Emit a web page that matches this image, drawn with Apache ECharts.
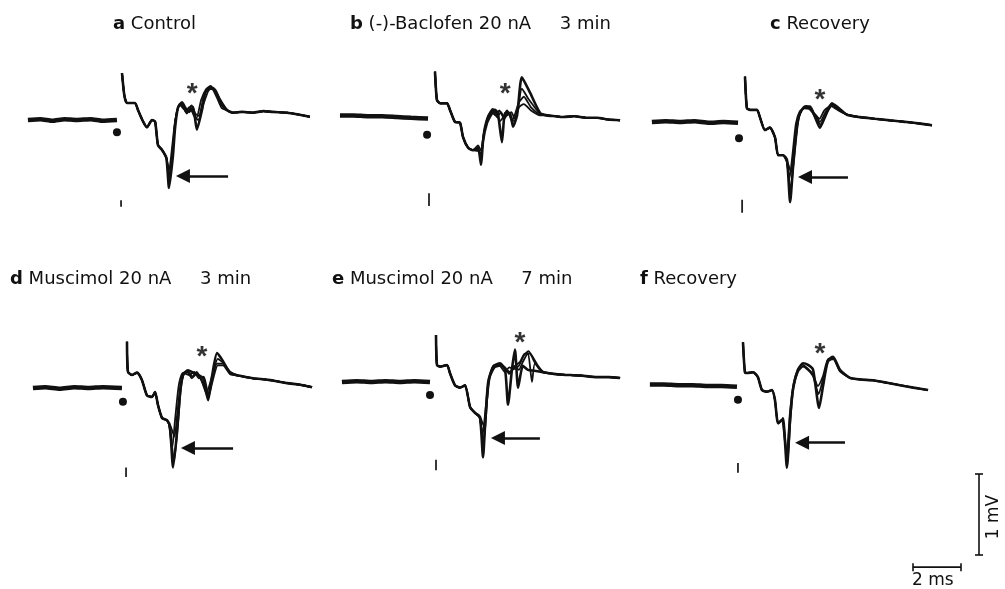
<!DOCTYPE html>
<html>
<head>
<meta charset="utf-8">
<script src="https://cdn.jsdelivr.net/npm/echarts@6/dist/echarts.min.js"></script>
<style>html,body{margin:0;padding:0;background:#fff}#c{width:1005px;height:589px}</style>
</head>
<body>
<div id="c"></div>
<script>
// Time in ms relative to stimulus, voltage in mV relative to baseline.
// ---- Panel titles ----
const panelLetters = ['a', 'b', 'c', 'd', 'e', 'f'];
const panelNames = ['Control', '(-)-Baclofen 20 nA     3 min', 'Recovery',
  'Muscimol 20 nA     3 min', 'Muscimol 20 nA     7 min', 'Recovery'];

// ---- Panel a ----
const aBase = [[-3.92,0.0],[-3.4,0.01],[-2.9,-0.01],[-2.4,0.01],[-1.9,0.0],[-1.3,0.01],[-0.8,-0.01],[-0.21,0.0]];
const aPre = [[0,0.58],[0.1,0.3],[0.21,0.21],[0.54,0.21],[0.67,0.12],[0.88,-0.02],[1.04,-0.09],[1.25,0.0],[1.38,-0.02],[1.5,-0.31],[1.67,-0.37],[1.85,-0.47]];
const aMid1 = [[1.96,-0.84],[2.12,-0.45],[2.21,-0.1],[2.33,0.15],[2.5,0.22],[2.62,0.16],[2.79,0.1],[2.96,0.16],[3.12,-0.12],[3.33,0.12],[3.46,0.33],[3.67,0.40],[3.88,0.37],[4.08,0.25]];
const aMid2 = [[1.96,-0.70],[2.1,-0.4],[2.2,-0.05],[2.35,0.16],[2.5,0.2],[2.65,0.1],[2.8,0.16],[2.96,0.1],[3.1,0.02],[3.3,0.25],[3.5,0.38],[3.7,0.42],[3.9,0.33],[4.1,0.2]];
const aMid3 = [[1.96,-0.62],[2.1,-0.3],[2.22,0.0],[2.38,0.18],[2.55,0.17],[2.7,0.08],[2.85,0.14],[3.0,0.05],[3.18,0.0],[3.4,0.2],[3.6,0.36],[3.8,0.4],[4.0,0.3],[4.2,0.18]];
const aMid4 = [[1.96,-0.76],[2.12,-0.35],[2.24,0.02],[2.4,0.2],[2.55,0.14],[2.7,0.12],[2.9,0.18],[3.05,0.08],[3.2,0.05],[3.4,0.28],[3.55,0.38],[3.75,0.38],[3.95,0.28],[4.15,0.15]];
const aPost = [[4.38,0.12],[4.62,0.09],[5.0,0.1],[5.46,0.09],[5.9,0.11],[6.29,0.1],[6.88,0.09],[7.3,0.07],[7.83,0.04]];

// ---- Panel b ----
const bBase = [[-3.96,0.02],[-3.4,0.02],[-2.8,0.01],[-2.2,0.01],[-1.6,0.0],[-1.0,-0.01],[-0.29,-0.02]];
const bPre = [[0,0.56],[0.08,0.21],[0.21,0.17],[0.5,0.17],[0.62,0.09],[0.83,-0.06],[1.04,-0.07],[1.17,-0.25],[1.38,-0.38],[1.58,-0.41]];
const bMid1 = [[1.79,-0.38],[1.92,-0.59],[2.0,-0.3],[2.17,-0.07],[2.38,0.05],[2.5,0.09],[2.62,0.05],[2.79,-0.31],[2.92,0.05],[3.12,0.05],[3.25,-0.12],[3.42,0.02],[3.62,0.49],[3.96,0.3],[4.38,0.05]];
const bMid2 = [[1.79,-0.42],[1.92,-0.45],[2.05,-0.2],[2.2,0.0],[2.4,0.1],[2.55,0.05],[2.7,-0.05],[2.85,0.0],[3.0,0.08],[3.15,0.0],[3.3,-0.05],[3.45,0.1],[3.62,0.35],[3.9,0.22],[4.38,0.04]];
const bMid3 = [[1.79,-0.35],[1.92,-0.42],[2.05,-0.15],[2.22,0.02],[2.42,0.08],[2.58,0.0],[2.75,0.06],[2.9,-0.02],[3.05,0.06],[3.2,-0.05],[3.35,0.05],[3.5,0.18],[3.7,0.25],[4.0,0.12],[4.38,0.03]];
const bMid4 = [[1.79,-0.4],[1.92,-0.5],[2.02,-0.22],[2.18,-0.04],[2.36,0.06],[2.52,0.02],[2.68,0.08],[2.85,0.0],[3.0,0.02],[3.18,0.06],[3.32,-0.02],[3.5,0.12],[3.7,0.16],[4.0,0.08],[4.38,0.02]];
const bPost = [[4.67,0.02],[5.0,0.01],[5.33,0.0],[5.8,0.01],[6.3,-0.01],[6.75,-0.01],[7.2,-0.03],[7.71,-0.04]];

// ---- Panel c ----
const cBase = [[-3.88,0.0],[-3.3,0.01],[-2.7,0.0],[-2.1,0.01],[-1.5,-0.01],[-0.9,0.0],[-0.29,-0.01]];
const cPre = [[0,0.56],[0.08,0.17],[0.21,0.15],[0.5,0.15],[0.62,0.06],[0.83,-0.1],[1.04,-0.07],[1.25,-0.19],[1.38,-0.41],[1.58,-0.41]];
const cMid1 = [[1.75,-0.47],[1.88,-0.99],[2.0,-0.56],[2.17,-0.06],[2.29,0.11],[2.5,0.19],[2.71,0.19],[2.92,0.06],[3.12,-0.07],[3.33,0.06],[3.62,0.23],[3.83,0.19]];
const cMid2 = [[1.75,-0.5],[1.9,-0.85],[2.04,-0.45],[2.2,0.0],[2.35,0.14],[2.55,0.2],[2.75,0.15],[2.95,0.08],[3.12,0.0],[3.35,0.12],[3.6,0.22],[3.85,0.17]];
const cMid3 = [[1.72,-0.45],[1.85,-0.7],[1.98,-0.4],[2.12,-0.02],[2.28,0.13],[2.48,0.17],[2.68,0.16],[2.9,0.1],[3.1,0.04],[3.3,0.14],[3.58,0.2],[3.8,0.16]];
const cMid4 = [[1.75,-0.48],[1.92,-0.62],[2.06,-0.3],[2.22,0.04],[2.4,0.16],[2.6,0.18],[2.8,0.12],[3.0,0.02],[3.15,-0.03],[3.38,0.1],[3.65,0.21],[3.9,0.15]];
const cPost = [[4.25,0.09],[4.79,0.06],[5.4,0.04],[6.04,0.02],[6.4,0.01],[6.75,0.0],[7.3,-0.02],[7.79,-0.04]];

// ---- Panel d ----
const dBase = [[-3.92,0.0],[-3.4,0.01],[-2.8,-0.01],[-2.2,0.01],[-1.6,0.0],[-1.0,0.01],[-0.21,0.0]];
const dPre = [[0,0.57],[0.04,0.2],[0.21,0.16],[0.42,0.19],[0.62,0.1],[0.83,-0.09],[1.04,-0.11],[1.17,-0.05],[1.29,-0.21],[1.46,-0.37],[1.67,-0.4]];
const dMid1 = [[1.79,-0.48],[1.92,-0.98],[2.08,-0.56],[2.21,-0.06],[2.33,0.16],[2.54,0.22],[2.75,0.19],[2.96,0.16],[3.17,0.12],[3.38,-0.15],[3.54,0.14],[3.75,0.43],[3.96,0.35],[4.29,0.19]];
const dMid2 = [[1.79,-0.5],[1.96,-0.9],[2.12,-0.45],[2.25,0.0],[2.38,0.18],[2.55,0.2],[2.72,0.14],[2.9,0.2],[3.1,0.1],[3.35,-0.1],[3.55,0.12],[3.75,0.3],[4.0,0.3],[4.3,0.18]];
const dMid3 = [[1.75,-0.45],[1.88,-0.75],[2.0,-0.4],[2.15,0.02],[2.3,0.18],[2.5,0.2],[2.7,0.12],[2.92,0.18],[3.12,0.08],[3.32,-0.05],[3.55,0.15],[3.78,0.36],[3.98,0.32],[4.3,0.2]];
const dMid4 = [[1.8,-0.46],[1.98,-0.6],[2.1,-0.3],[2.24,0.05],[2.4,0.18],[2.6,0.16],[2.8,0.2],[3.0,0.12],[3.2,0.14],[3.4,-0.1],[3.58,0.1],[3.78,0.28],[4.0,0.28],[4.3,0.17]];
const dPost = [[4.7,0.15],[5.25,0.12],[5.9,0.1],[6.67,0.06],[7.2,0.04],[7.71,0.01]];

// ---- Panel e ----
const eBase = [[-3.92,0.0],[-3.3,0.01],[-2.7,0.0],[-2.1,0.01],[-1.5,0.0],[-0.9,0.01],[-0.25,0.0]];
const ePre = [[0,0.58],[0.04,0.21],[0.17,0.19],[0.46,0.21],[0.58,0.11],[0.79,-0.04],[1.0,-0.07],[1.21,-0.04],[1.42,-0.31],[1.62,-0.38]];
const eMid1 = [[1.83,-0.43],[1.96,-0.93],[2.04,-0.56],[2.17,-0.01],[2.38,0.19],[2.67,0.23],[2.88,0.15],[3.0,-0.28],[3.17,0.17],[3.29,0.4],[3.42,-0.07],[3.62,0.2],[3.83,0.15],[4.1,0.14],[4.46,0.12]];
const eMid2 = [[1.83,-0.45],[1.98,-0.75],[2.08,-0.45],[2.2,0.02],[2.4,0.2],[2.65,0.22],[2.88,0.18],[3.05,0.1],[3.25,0.2],[3.45,0.15],[3.62,0.25],[3.83,0.36],[4.0,0.0],[4.12,0.23],[4.46,0.12]];
const eMid3 = [[1.8,-0.42],[1.94,-0.65],[2.06,-0.35],[2.2,0.04],[2.42,0.2],[2.65,0.2],[2.88,0.12],[3.05,0.18],[3.25,0.16],[3.45,0.2],[3.65,0.32],[3.85,0.38],[4.05,0.3],[4.25,0.2],[4.46,0.13]];
const eMid4 = [[1.85,-0.44],[2.0,-0.55],[2.1,-0.3],[2.24,0.05],[2.45,0.18],[2.7,0.2],[2.9,0.16],[3.1,0.12],[3.3,0.2],[3.5,0.25],[3.7,0.35],[3.9,0.35],[4.1,0.25],[4.3,0.16],[4.46,0.12]];
const ePost = [[4.9,0.1],[5.29,0.09],[6.0,0.08],[6.71,0.06],[7.2,0.06],[7.67,0.05]];

// ---- Panel f ----
const fBase = [[-3.88,0.02],[-3.3,0.02],[-2.7,0.01],[-2.1,0.01],[-1.5,0.0],[-0.9,0.0],[-0.25,-0.01]];
const fPre = [[0,0.54],[0.08,0.17],[0.17,0.16],[0.42,0.17],[0.62,0.11],[0.79,-0.05],[1.0,-0.07],[1.21,-0.05],[1.33,-0.17],[1.46,-0.46],[1.62,-0.42]];
const fMid1 = [[1.67,-0.4],[1.83,-1.01],[1.96,-0.42],[2.08,-0.05],[2.29,0.2],[2.5,0.28],[2.71,0.26],[2.92,0.2],[3.17,-0.27],[3.33,-0.01],[3.54,0.32],[3.75,0.36],[4.04,0.2]];
const fMid2 = [[1.67,-0.42],[1.85,-0.95],[1.98,-0.4],[2.1,-0.02],[2.3,0.18],[2.5,0.24],[2.7,0.2],[2.92,0.12],[3.15,-0.1],[3.33,0.08],[3.55,0.3],[3.75,0.34],[4.04,0.18]];
const fMid3 = [[1.65,-0.43],[1.82,-0.85],[1.95,-0.35],[2.1,0.02],[2.28,0.2],[2.48,0.26],[2.68,0.22],[2.9,0.15],[3.12,0.0],[3.33,0.12],[3.55,0.33],[3.78,0.33],[4.04,0.19]];
const fPost = [[4.46,0.1],[4.9,0.08],[5.42,0.07],[6.0,0.04],[6.54,0.01],[7.1,-0.02],[7.71,-0.05]];

// ---- Annotations (ms, mV) ----
const dots = [[-0.21,-0.15],[-0.33,-0.22],[-0.25,-0.2],[-0.17,-0.17],[-0.25,-0.16],[-0.21,-0.17]];
const stimTicks = [[-0.04,-0.99,-1.07],[-0.25,-0.94,-1.1],[-0.12,-0.96,-1.12],[-0.04,-0.98,-1.1],[0.0,-0.96,-1.09],[-0.21,-0.95,-1.07]];
const arrows = [[4.42,2.54,-0.69],null,[4.29,2.5,-0.68],[4.42,2.54,-0.74],[4.33,2.58,-0.69],[4.25,2.46,-0.7]];
const asterisks = [[2.92,0.40],[2.92,0.37],[3.12,0.36],[3.12,0.47],[3.5,0.56],[3.21,0.48]];

// ---- Scale bars ----
const scaleMs = 2;
const scaleMv = 1;

const panels = [
  {base: aBase, pre: aPre, mids: [aMid1, aMid2, aMid3, aMid4], post: aPost},
  {base: bBase, pre: bPre, mids: [bMid1, bMid2, bMid3, bMid4], post: bPost},
  {base: cBase, pre: cPre, mids: [cMid1, cMid2, cMid3, cMid4], post: cPost},
  {base: dBase, pre: dPre, mids: [dMid1, dMid2, dMid3, dMid4], post: dPost},
  {base: eBase, pre: ePre, mids: [eMid1, eMid2, eMid3, eMid4], post: ePost},
  {base: fBase, pre: fPre, mids: [fMid1, fMid2, fMid3], post: fPost}
];

// layout: stimulus x pixel and baseline y pixel for each panel
const PXMS = 24, PXMV = 81;
const anchors = [[122,120],[435,117],[745,122],[127,388],[436,382],[743,386]];
const titlePos = [[113,15],[350,15],[770,15],[10,270],[332,270],[640,270]];
const XMIN = -4, XMAX = 8.5, YMIN = -1.2, YMAX = 0.8;

const FONT = '"DejaVu Sans", "Liberation Sans", Arial, sans-serif';
const grids = [], xAxes = [], yAxes = [], series = [], titles = [];

panels.forEach((p, i) => {
  const [sx, by] = anchors[i];
  grids.push({left: sx + XMIN * PXMS, top: by - YMAX * PXMV,
    width: (XMAX - XMIN) * PXMS, height: (YMAX - YMIN) * PXMV});
  xAxes.push({type: 'value', gridIndex: i, min: XMIN, max: XMAX, show: false});
  yAxes.push({type: 'value', gridIndex: i, min: YMIN, max: YMAX, show: false});
  const common = {type: 'line', xAxisIndex: i, yAxisIndex: i, showSymbol: false, symbol: 'none',
    smooth: 0.2, silent: true, animation: false};
  series.push(Object.assign({}, common, {data: p.base, lineStyle: {color: '#111', width: 4.5}}));
  p.mids.forEach((m, k) => {
    series.push(Object.assign({}, common, {data: p.pre.concat(m, p.post),
      lineStyle: {color: '#111', width: k === 0 ? 2.6 : 1.8}}));
  });
  // stimulus dot
  series.push({type: 'scatter', xAxisIndex: i, yAxisIndex: i, data: [dots[i]], symbol: 'circle',
    symbolSize: 8, itemStyle: {color: '#111', opacity: 1}, silent: true, animation: false});
  // small stimulus mark
  const st = stimTicks[i];
  series.push(Object.assign({}, common, {smooth: false, data: [[st[0], st[1]], [st[0], st[2]]],
    lineStyle: {color: '#222', width: 1.8}}));
  // arrow
  if (arrows[i]) {
    const ar = arrows[i];
    series.push({type: 'lines', coordinateSystem: 'cartesian2d', xAxisIndex: i, yAxisIndex: i,
      data: [{coords: [[ar[0], ar[2]], [ar[1], ar[2]]]}], symbol: ['none', 'triangle'], symbolSize: [10, 14],
      lineStyle: {color: '#111', width: 2.6, opacity: 1}, silent: true, animation: false});
  }
  // asterisk
  series.push({type: 'scatter', xAxisIndex: i, yAxisIndex: i, data: [asterisks[i]], symbolSize: 0,
    label: {show: true, position: 'inside', formatter: '*', color: '#000', fontSize: 28, fontWeight: 'bold',
      fontFamily: '"Liberation Sans", Arial, sans-serif', offset: [0, 7]}, silent: true, animation: false});
  titles.push({text: '{b|' + panelLetters[i] + '} ' + panelNames[i], left: titlePos[i][0], top: titlePos[i][1],
    padding: 0, textStyle: {fontSize: 18, fontWeight: 'normal', color: '#111', fontFamily: FONT,
      rich: {b: {fontSize: 18, fontWeight: 'bold', color: '#111', fontFamily: FONT}}}});
});

// scale-bar grid
const si = panels.length;
grids.push({left: 913, top: 474, width: 3 * PXMS, height: 1.2 * PXMV});
xAxes.push({type: 'value', gridIndex: si, min: 0, max: 3, show: false});
yAxes.push({type: 'value', gridIndex: si, min: -0.2, max: 1, show: false});
series.push({type: 'line', xAxisIndex: si, yAxisIndex: si, data: [[0, -0.15], [scaleMs, -0.15]],
  symbol: 'rect', symbolSize: [1.6, 8], showSymbol: true, itemStyle: {color: '#111'},
  lineStyle: {color: '#111', width: 1.6}, silent: true, animation: false});
series.push({type: 'line', xAxisIndex: si, yAxisIndex: si, data: [[2.75, 0], [2.75, scaleMv]],
  symbol: 'rect', symbolSize: [8, 1.6], showSymbol: true, itemStyle: {color: '#111'},
  lineStyle: {color: '#111', width: 1.6}, silent: true, animation: false});

const chart = echarts.init(document.getElementById('c'), null, {renderer: 'canvas'});
chart.setOption({
  backgroundColor: '#fff',
  animation: false,
  title: titles,
  grid: grids, xAxis: xAxes, yAxis: yAxes, series: series,
  graphic: [
    {type: 'text', left: 912, top: 572, style: {text: scaleMs + ' ms', font: '17px ' + FONT, fill: '#111'}},
    {type: 'text', x: 994, y: 517, rotation: Math.PI / 2,
      style: {text: scaleMv + ' mV', font: '17px ' + FONT, fill: '#111', textAlign: 'center', textVerticalAlign: 'middle'}}
  ]
});
</script>
</body>
</html>
